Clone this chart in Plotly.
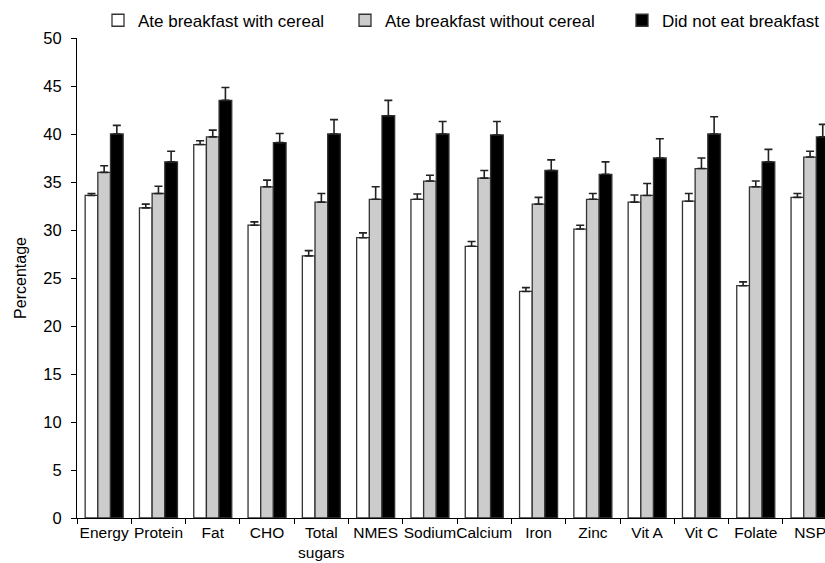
import plotly.graph_objects as go

categories = ["Energy", "Protein", "Fat", "CHO", "Total<br>sugars", "NMES", "Sodium",
              "Calcium", "Iron", "Zinc", "Vit A", "Vit C", "Folate", "NSP"]

series_names = ["Ate breakfast with cereal", "Ate breakfast without cereal", "Did not eat breakfast"]

with_cereal = [33.6, 32.3, 38.9, 30.5, 27.3, 29.2, 33.2, 28.3, 23.6, 30.1, 32.9, 33.0, 24.2, 33.4]
with_cereal_err = [0.2, 0.4, 0.4, 0.35, 0.55, 0.5, 0.55, 0.5, 0.4, 0.4, 0.75, 0.8, 0.4, 0.4]

without_cereal = [36.0, 33.8, 39.7, 34.5, 32.9, 33.2, 35.1, 35.4, 32.7, 33.2, 33.6, 36.4, 34.5, 37.6]
without_cereal_err = [0.7, 0.75, 0.7, 0.7, 0.9, 1.3, 0.6, 0.8, 0.7, 0.6, 1.25, 1.1, 0.6, 0.6]

no_breakfast = [40.0, 37.1, 43.5, 39.1, 40.0, 41.9, 40.0, 39.9, 36.2, 35.8, 37.5, 40.0, 37.1, 39.7]
no_breakfast_err = [0.9, 1.1, 1.35, 0.95, 1.5, 1.6, 1.3, 1.4, 1.1, 1.3, 2.0, 1.8, 1.3, 1.3]

y_ticks = [0, 5, 10, 15, 20, 25, 30, 35, 40, 45, 50]

FONT = "Liberation Sans, Arial, Helvetica, sans-serif"
fills = ["#ffffff", "#cccccc", "#000000"]
values = [with_cereal, without_cereal, no_breakfast]
errors = [with_cereal_err, without_cereal_err, no_breakfast_err]
legend_ids = ["legend", "legend2", "legend3"]

fig = go.Figure()
for name, vals, errs, fill, lg in zip(series_names, values, errors, fills, legend_ids):
    fig.add_trace(go.Bar(
        x=categories, y=vals, name=name,
        marker=dict(color=fill, line=dict(color="#333333", width=1.3)),
        error_y=dict(type="data", array=errs, arrayminus=[0] * len(errs), symmetric=False,
                     color="#222222", thickness=1.6, width=4),
        legend=lg,
    ))

plot_left, plot_w = 77, 748
text_starts = [138, 385, 662]
legend_common = dict(orientation="h", yanchor="middle", y=1.036, xanchor="left",
                     font=dict(family=FONT, size=17, color="#000000"),
                     bgcolor="rgba(0,0,0,0)", borderwidth=0, itemclick=False)
legends = {}
for lg, ts in zip(legend_ids, text_starts):
    legends[lg] = dict(legend_common, x=(ts - 40 - plot_left) / plot_w)

fig.update_layout(
    width=825, height=563,
    margin=dict(l=77, r=0, t=38, b=45, autoexpand=False),
    paper_bgcolor="white", plot_bgcolor="white",
    barmode="group", bargap=0.3, bargroupgap=0,
    font=dict(family=FONT, size=15.5, color="#000000"),
    showlegend=True,
    **legends,
)
fig.update_xaxes(
    type="category", range=[-0.5, 13.275],
    showline=True, linecolor="#000000", linewidth=1,
    ticks="outside", tickson="boundaries", ticklen=5, tickcolor="#000000", tickwidth=1,
    tickfont=dict(family=FONT, size=15.5, color="#000000"),
    showgrid=False, zeroline=False, tickangle=0,
)
fig.update_yaxes(
    range=[0, 50], tickvals=y_ticks,
    showline=True, linecolor="#000000", linewidth=1,
    ticks="outside", ticklen=5, tickcolor="#000000", tickwidth=1,
    tickfont=dict(family=FONT, size=16.5, color="#000000"),
    ticklabelstandoff=6,
    showgrid=False, zeroline=False,
    title=dict(text="Percentage", font=dict(family=FONT, size=16, color="#000000"), standoff=12),
)

fig.write_html(
    "out.html",
    config={"displayModeBar": False, "staticPlot": True},
    post_script="document.body.style.margin='0';document.body.style.overflow='hidden';",
)
